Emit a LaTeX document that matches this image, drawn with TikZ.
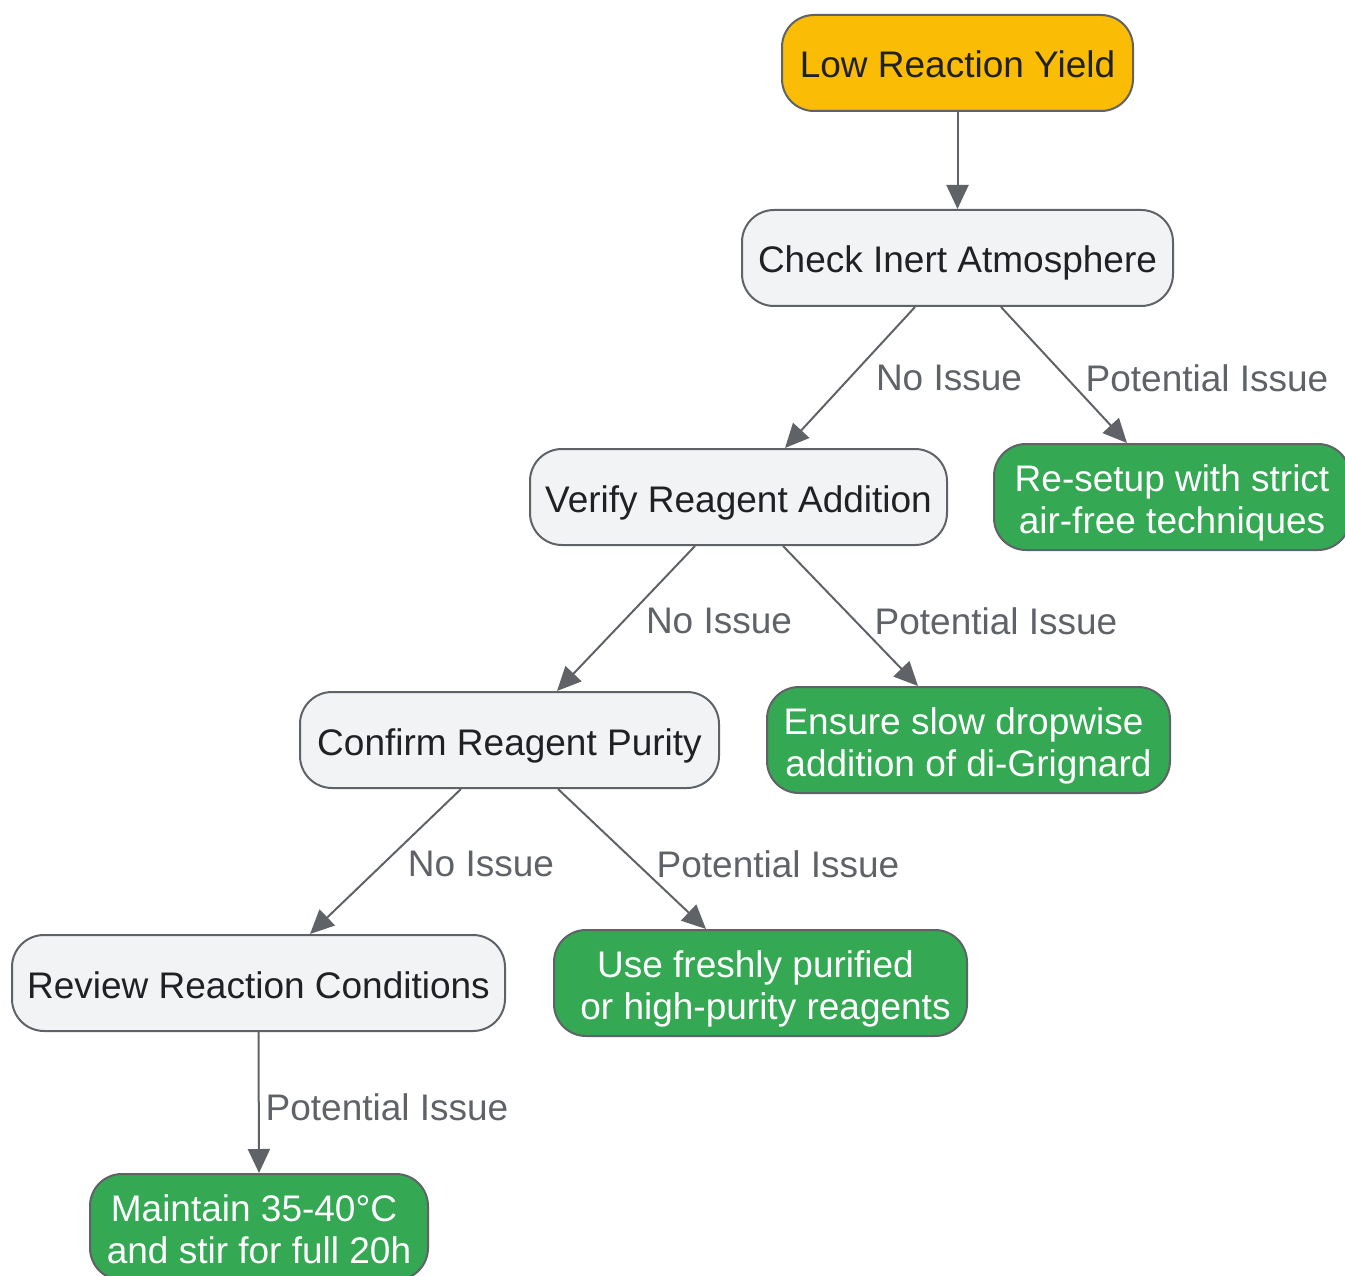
\documentclass[tikz,border=0pt]{standalone}
\usepackage{fontspec}
\setmainfont{Liberation Sans}
\usetikzlibrary{arrows.meta}
\definecolor{edgegray}{HTML}{5F6368}
\definecolor{txtdark}{HTML}{202124}
\definecolor{boxgray}{HTML}{F1F3F4}
\definecolor{startyel}{HTML}{FBBC05}
\definecolor{okgreen}{HTML}{34A853}
\newcommand\topstrut{\rule{0pt}{39pt}}
\newcommand\botstrut{\rule[-8pt]{0pt}{8pt}}
\newcommand\halfsp{\hspace*{10pt}}
\begin{document}
\begin{tikzpicture}[x=1pt,y=-1pt,
  base/.style={draw=edgegray,line width=2pt,rounded corners=32pt,align=center,
    inner sep=0pt,font=\fontsize{37}{41.5}\selectfont,minimum height=96pt},
  startbox/.style={base,fill=startyel,text=txtdark,text height=38pt,text depth=8pt},
  checkbox/.style={base,fill=boxgray,text=txtdark,text height=38pt,text depth=8pt},
  fixbox/.style={base,fill=okgreen,text=white,minimum height=106pt},
  conn/.style={draw=edgegray,line width=2pt,-{Triangle[length=24pt,width=22pt]}},
  lab/.style={text=edgegray,font=\fontsize{37}{42}\selectfont,inner sep=0pt}]
\useasboundingbox (0,0) rectangle (1345,1276);
\node[startbox,minimum width=351pt] (low) at (957.5,63) {Low Reaction Yield};
\node[checkbox,minimum width=431pt] (chk) at (957.5,258) {Check Inert Atmosphere};
\node[checkbox,minimum width=417pt] (ver) at (738.5,497) {Verify Reagent Addition};
\node[fixbox,minimum width=356pt] (res) at (1172,497) {\topstrut Re-setup with strict\\air-free techniques\botstrut};
\node[checkbox,minimum width=419pt] (con) at (509.5,740) {Confirm Reagent Purity};
\node[fixbox,minimum width=403pt] (ens) at (968.5,740) {\topstrut Ensure slow dropwise\halfsp\\addition of di-Grignard\botstrut};
\node[checkbox,minimum width=493pt] (rev) at (258.5,983) {Review Reaction Conditions};
\node[fixbox,minimum width=413pt] (use) at (760.5,983) {\topstrut Use freshly purified\halfsp\\\halfsp or high-purity reagents\botstrut};
\node[fixbox,minimum width=338pt] (mai) at (259,1227) {\topstrut Maintain 35-40\textdegree C\halfsp\\and stir for full 20h\botstrut};

\draw[conn] (low.south) -- (chk.north);
\draw[conn] ([xshift=-42.5pt]chk.south) -- ([xshift=46.5pt]ver.north);
\draw[conn] ([xshift=43.5pt]chk.south) -- ([xshift=-45pt]res.north);
\draw[conn] ([xshift=-43.5pt]ver.south) -- ([xshift=47.5pt]con.north);
\draw[conn] ([xshift=44.5pt]ver.south) -- ([xshift=-50.5pt]ens.north);
\draw[conn] ([xshift=-48.5pt]con.south) -- ([xshift=51.5pt]rev.north);
\draw[conn] ([xshift=48.5pt]con.south) -- ([xshift=-54.5pt]use.north);
\draw[conn] (rev.south) -- (mai.north);

\node[lab] (l1) at (949,378) {No Issue};
\node[lab] (l2) at (1207,378) {Potential Issue};
\node[lab] (l3) at (719,621) {No Issue};
\node[lab] (l4) at (996,621) {Potential Issue};
\node[lab] (l5) at (481,864) {No Issue};
\node[lab] (l6) at (778,864) {Potential Issue};
\node[lab] (l7) at (387,1107) {Potential Issue};
\end{tikzpicture}
\end{document}
